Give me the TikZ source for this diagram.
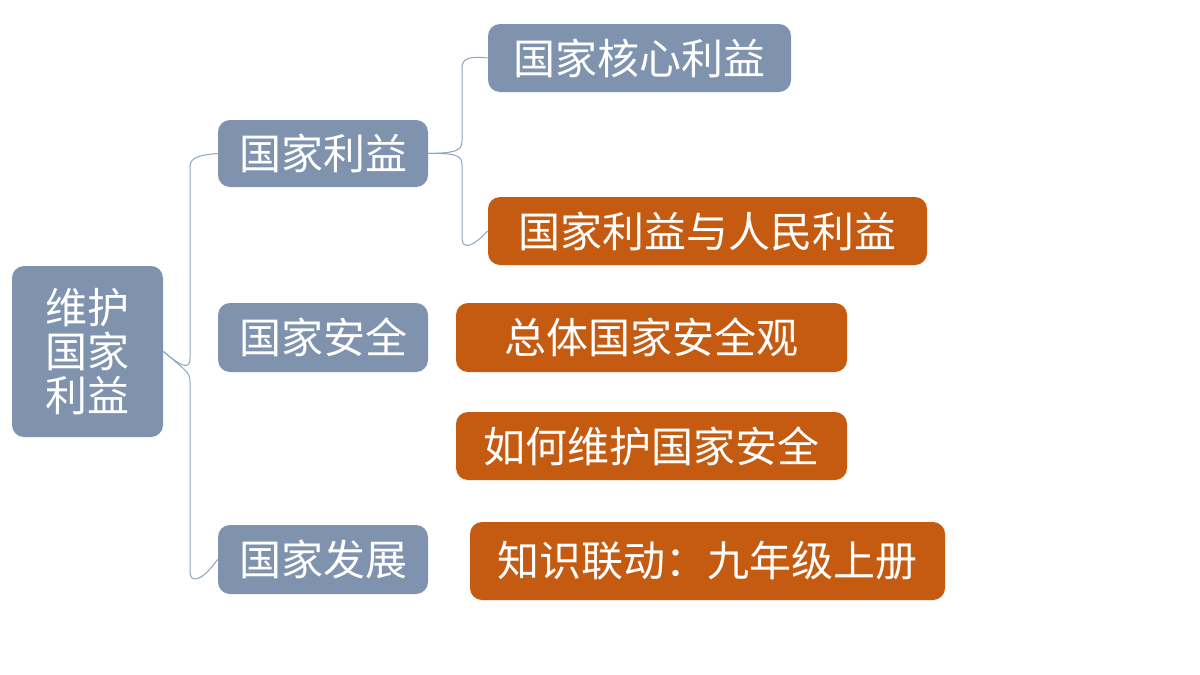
\documentclass[tikz,border=0pt]{standalone}
\usepackage{fontspec}
\newfontfamily\cjk{Noto Sans CJK SC}
\begin{document}
\begin{tikzpicture}[x=0.5pt,y=-0.5pt,
  box/.style={rounded corners=6pt,inner sep=0pt,font=\cjk\fontsize{21}{25}\selectfont,text=white},
  blue/.style={box,fill={rgb,255:red,127;green,147;blue,174}},
  org/.style={box,fill={rgb,255:red,197;green,90;blue,17}},
  ln/.style={draw={rgb,255:red,140;green,165;blue,190},line width=0.5pt}]
\useasboundingbox (0,0) rectangle (1200,675);
\newcommand\bx[6]{\node[#1,minimum width=#4*0.5pt,minimum height=#5*0.5pt] (#6) at (#2,#3) {};}
\node[blue,minimum width=75.5pt,minimum height=85.5pt,align=center] (root) at (87.5,351.5) {维护\\[-3pt]国家\\[-3pt]利益};
\node[blue,minimum width=105pt,minimum height=33.5pt] (b1) at (323,153.5) {国家利益};
\node[blue,minimum width=105pt,minimum height=34.5pt] (b2) at (323,337.5) {国家安全};
\node[blue,minimum width=105pt,minimum height=34.5pt] (b3) at (323,559.5) {国家发展};
\node[blue,minimum width=151.5pt,minimum height=34pt] (c1) at (639.5,58) {国家核心利益};
\node[org,minimum width=219.5pt,minimum height=34pt] (c2) at (707.5,231) {国家利益与人民利益};
\node[org,minimum width=195.5pt,minimum height=34.5pt] (c3) at (651.5,337.5) {总体国家安全观};
\node[org,minimum width=195.5pt,minimum height=34pt] (c4) at (651.5,446) {如何维护国家安全};
\node[org,minimum width=237.5pt,minimum height=39pt] (c5) at (707.5,561) {知识联动：九年级上册};
\draw[ln] (root.east) .. controls (185,370) and (190,368) .. (190,358) -- (190,167) .. controls (190,157) and (200,155) .. (b1.west);
\draw[ln] (root.east) .. controls (185,370) and (190,372) .. (190,382) -- (190,572) .. controls (190,582) and (200,584) .. (b3.west);
\draw[ln] (b1.east) .. controls (455,153) and (462,151) .. (462,141) -- (462,68) .. controls (462,58) and (470,56) .. (c1.west);
\draw[ln] (b1.east) .. controls (455,153) and (462,155) .. (462,165) -- (462,238) .. controls (462,248) and (470,250) .. (c2.west);
\end{tikzpicture}
\end{document}
